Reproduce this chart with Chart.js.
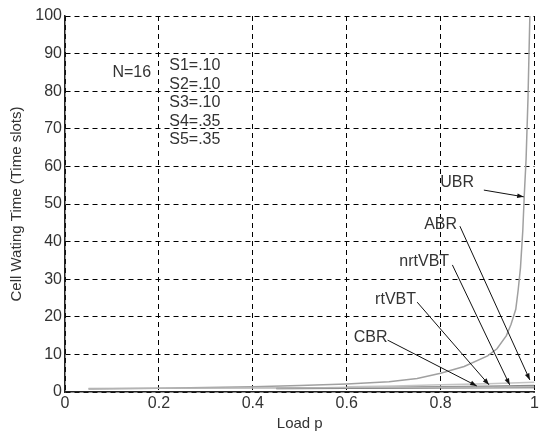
<!DOCTYPE html>
<html lang="en">
<head>
    <meta charset="UTF-8">
    <title>Cell Wating Time</title>
    <script src="https://cdn.jsdelivr.net/npm/chart.js"></script>
    <style>
        html, body { margin: 0; padding: 0; background: #fff; }
        #wrap { width: 541px; height: 437px; }
    </style>
</head>
<body>
    <div id="wrap"><canvas id="myChart" width="541" height="437"></canvas></div>

    <script>
        // series: load p -> cell waiting time (time slots)
        const ubrLoad = [0.05, 0.2, 0.4, 0.5, 0.6, 0.69, 0.75, 0.8, 0.85, 0.9, 0.92, 0.94, 0.95, 0.96, 0.965, 0.97, 0.975, 0.978, 0.982, 0.986, 0.99];
        const ubrWait = [0.8, 1.0, 1.4, 1.7, 2.1, 2.7, 3.6, 5.0, 6.8, 9.6, 11.5, 15, 18, 22, 27, 33, 43, 52, 62, 78, 100];
        const abrLoad = [0.6, 0.7, 0.8, 0.9, 0.95, 1];
        const abrWait = [1.4, 1.6, 1.9, 2.2, 2.4, 2.6];
        const nrtLoad = [0.45, 0.6, 0.8, 0.9, 1];
        const nrtWait = [1.0, 1.2, 1.4, 1.5, 1.7];
        const rtLoad = [0.05, 0.2, 0.4, 0.6, 0.8, 1];
        const rtWait = [0.9, 1.0, 1.05, 1.1, 1.2, 1.3];
        const cbrLoad = [0.45, 0.6, 0.8, 1];
        const cbrWait = [0.9, 1.0, 1.1, 1.2];

        const params = ['S1=.10', 'S2=.10', 'S3=.10', 'S4=.35', 'S5=.35'];

        // label text position, arrow tail, arrow head (data units)
        const arrows = [
            { text: 'UBR', at: [0.835, 55.6], from: [0.892, 53.7], to: [0.977, 51.9] },
            { text: 'ABR', at: [0.80, 44.4], from: [0.841, 44.1], to: [0.99, 3.2] },
            { text: 'nrtVBT', at: [0.765, 34.6], from: [0.825, 33.8], to: [0.947, 1.9] },
            { text: 'rtVBT', at: [0.704, 24.7], from: [0.75, 23.9], to: [0.903, 1.9] },
            { text: 'CBR', at: [0.651, 14.6], from: [0.687, 13.8], to: [0.877, 1.6] }
        ];

        const FONT = '"Liberation Sans", Arial, sans-serif';

        function pts(xs, ys) {
            return xs.map((x, i) => ({ x: x, y: ys[i] }));
        }

        const notes = {
            id: 'notes',
            afterDatasetsDraw(chart) {
                const ctx = chart.ctx;
                const xs = chart.scales.x, ys = chart.scales.y;
                ctx.save();
                ctx.font = '16px ' + FONT;
                ctx.fillStyle = '#333';
                ctx.textBaseline = 'middle';

                ctx.textAlign = 'left';
                ctx.fillText('N=16', xs.getPixelForValue(0.101), ys.getPixelForValue(85.0));
                params.forEach((p, i) => {
                    ctx.fillText(p, xs.getPixelForValue(0.222), ys.getPixelForValue(87.3) + 2 + i * 18.5);
                });

                arrows.forEach(a => {
                    ctx.textAlign = 'center';
                    ctx.fillStyle = '#333';
                    ctx.fillText(a.text, xs.getPixelForValue(a.at[0]), ys.getPixelForValue(a.at[1]));
                    const x1 = xs.getPixelForValue(a.from[0]), y1 = ys.getPixelForValue(a.from[1]);
                    const x2 = xs.getPixelForValue(a.to[0]), y2 = ys.getPixelForValue(a.to[1]);
                    ctx.strokeStyle = '#111';
                    ctx.lineWidth = 1;
                    ctx.beginPath();
                    ctx.moveTo(x1, y1);
                    ctx.lineTo(x2, y2);
                    ctx.stroke();
                    const ang = Math.atan2(y2 - y1, x2 - x1);
                    ctx.fillStyle = '#111';
                    ctx.beginPath();
                    ctx.moveTo(x2, y2);
                    ctx.lineTo(x2 - 7 * Math.cos(ang - 0.35), y2 - 7 * Math.sin(ang - 0.35));
                    ctx.lineTo(x2 - 7 * Math.cos(ang + 0.35), y2 - 7 * Math.sin(ang + 0.35));
                    ctx.closePath();
                    ctx.fill();
                });
                ctx.restore();
            }
        };

        const ctx = document.getElementById('myChart').getContext('2d');
        const chart = new Chart(ctx, {
            type: 'line',
            data: {
                datasets: [
                    { label: 'rtVBT', data: pts(rtLoad, rtWait), borderColor: '#b4b4b4', borderWidth: 1.5 },
                    { label: 'ABR', data: pts(abrLoad, abrWait), borderColor: '#c4c4c4', borderWidth: 1.5 },
                    { label: 'nrtVBT', data: pts(nrtLoad, nrtWait), borderColor: '#8a8a8a', borderWidth: 1.5 },
                    { label: 'CBR', data: pts(cbrLoad, cbrWait), borderColor: '#555', borderWidth: 1.5 },
                    { label: 'UBR', data: pts(ubrLoad, ubrWait), borderColor: '#a0a0a0', borderWidth: 1.5 }
                ]
            },
            options: {
                responsive: false,
                animation: false,
                elements: { point: { radius: 0 }, line: { tension: 0 } },
                layout: { padding: { top: 16, right: -3, left: 0, bottom: 0 } },
                plugins: { legend: { display: false }, tooltip: { enabled: false } },
                scales: {
                    x: {
                        type: 'linear',
                        min: 0,
                        max: 1,
                        ticks: {
                            stepSize: 0.2,
                            color: '#333',
                            font: { family: FONT, size: 16 },
                            padding: 2,
                            maxRotation: 0,
                            callback: v => String(Math.round(v * 10) / 10)
                        },
                        grid: { color: '#000', lineWidth: 1, drawTicks: false },
                        border: { display: true, color: '#222', width: 1.5, dash: [5, 4] },
                        title: { display: true, text: 'Load p', color: '#333', font: { family: FONT, size: 15 }, padding: { top: 0, bottom: 4 } },
                        afterFit: s => { s.height = 45; }
                    },
                    y: {
                        min: 0,
                        max: 100,
                        ticks: {
                            stepSize: 10,
                            color: '#333',
                            font: { family: FONT, size: 16 },
                            padding: 3
                        },
                        grid: { color: '#000', lineWidth: 1, drawTicks: false },
                        border: { display: true, color: '#222', width: 1.5, dash: [5, 4] },
                        title: { display: true, text: 'Cell Wating Time (Time slots)', color: '#333', font: { family: FONT, size: 15 }, padding: { top: 8, bottom: 0 } },
                        afterFit: s => { s.width = 65; }
                    }
                }
            },
            plugins: [notes]
        });
    </script>
</body>
</html>
